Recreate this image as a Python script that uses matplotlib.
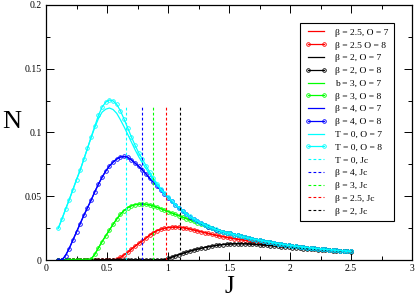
import numpy as np
import matplotlib
matplotlib.use('Agg')
import matplotlib.pyplot as plt
from matplotlib.ticker import MultipleLocator, FormatStrFormatter
from matplotlib import rcParams

rcParams.update({'font.family': 'serif', 'font.serif': ['Liberation Serif', 'DejaVu Serif']})

# J grid (step 0.03)
J = [0.10, 0.13, 0.16, 0.19, 0.22, 0.25, 0.28, 0.31, 0.34, 0.37,
     0.40, 0.43, 0.46, 0.49, 0.52, 0.55, 0.58, 0.61, 0.64, 0.67,
     0.70, 0.73, 0.76, 0.79, 0.82, 0.85, 0.88, 0.91, 0.94, 0.97,
     1.00, 1.03, 1.06, 1.09, 1.12, 1.15, 1.18, 1.21, 1.24, 1.27,
     1.30, 1.33, 1.36, 1.39, 1.42, 1.45, 1.48, 1.51, 1.54, 1.57,
     1.60, 1.63, 1.66, 1.69, 1.72, 1.75, 1.78, 1.81, 1.84, 1.87,
     1.90, 1.93, 1.96, 1.99, 2.02, 2.05, 2.08, 2.11, 2.14, 2.17,
     2.20, 2.23, 2.26, 2.29, 2.32, 2.35, 2.38, 2.41, 2.44, 2.47, 2.50]

# common tail for J >= 1.51
tail = [0.0208, 0.0200, 0.0193,
        0.0186, 0.0179, 0.0172, 0.0166, 0.0160, 0.0155, 0.0149, 0.0144, 0.0139, 0.0134,
        0.0129, 0.0125, 0.0120, 0.0116, 0.0112, 0.0108, 0.0105, 0.0101, 0.0098, 0.0095,
        0.0092, 0.0089, 0.0086, 0.0084, 0.0081, 0.0079, 0.0076, 0.0074, 0.0072, 0.0070, 0.0068]

N_T0_O8 = [0.0248, 0.0320, 0.0397, 0.0472, 0.0550, 0.0630, 0.0705, 0.0790, 0.0876, 0.0965,
           0.1050, 0.1135, 0.1200, 0.1238, 0.1255, 0.1248, 0.1220, 0.1170, 0.1105, 0.1035,
           0.0965, 0.0900, 0.0840, 0.0790, 0.0740, 0.0690, 0.0640, 0.0600, 0.0560, 0.0525,
           0.0495, 0.0465, 0.0435, 0.0410, 0.0385, 0.0362, 0.0342, 0.0322, 0.0305, 0.0290,
           0.0276, 0.0263, 0.0251, 0.0240, 0.0230, 0.0221, 0.0212] + tail

N_T0_O7 = [0.0248, 0.0320, 0.0397, 0.0472, 0.0550, 0.0630, 0.0705, 0.0790, 0.0876, 0.0960,
           0.1040, 0.1110, 0.1160, 0.1183, 0.1192, 0.1180, 0.1150, 0.1100, 0.1045, 0.0985,
           0.0925, 0.0865, 0.0810, 0.0762, 0.0718, 0.0672, 0.0628, 0.0590, 0.0553, 0.0520,
           0.0492, 0.0463, 0.0435, 0.0410, 0.0385, 0.0362, 0.0342, 0.0322, 0.0305, 0.0290,
           0.0276, 0.0263, 0.0251, 0.0240, 0.0230, 0.0221, 0.0212] + tail

N_b4_O8 = [0.0, 0.0, 0.0035, 0.0090, 0.0155, 0.0220, 0.0285, 0.0350, 0.0410, 0.0470,
           0.0535, 0.0595, 0.0650, 0.0698, 0.0737, 0.0768, 0.0792, 0.0808, 0.0812, 0.0805,
           0.0785, 0.0760, 0.0735, 0.0705, 0.0675, 0.0640, 0.0610, 0.0580, 0.0548, 0.0518,
           0.0490, 0.0460, 0.0432, 0.0407, 0.0382, 0.0360, 0.0340, 0.0320, 0.0303, 0.0288,
           0.0274, 0.0261, 0.0249, 0.0238, 0.0228, 0.0219, 0.0210] + tail

N_b3_O8 = [0.0, 0.0, 0.0, 0.0, 0.0, 0.0, 0.0, 0.0, 0.0, 0.0008,
           0.0045, 0.0095, 0.0145, 0.0190, 0.0235, 0.0280, 0.0322, 0.0358, 0.0388, 0.0410,
           0.0425, 0.0434, 0.0438, 0.0439, 0.0437, 0.0432, 0.0424, 0.0414, 0.0403, 0.0391,
           0.0380, 0.0369, 0.0358, 0.0347, 0.0336, 0.0325, 0.0314, 0.0303, 0.0293, 0.0284,
           0.0272, 0.0260, 0.0249, 0.0238, 0.0228, 0.0218, 0.0209] + tail

N_b25_O8 = [0.0, 0.0, 0.0, 0.0, 0.0, 0.0, 0.0, 0.0, 0.0, 0.0,
            0.0, 0.0, 0.0, 0.0, 0.0, 0.0, 0.0005, 0.0020, 0.0040, 0.0060,
            0.0085, 0.0108, 0.0130, 0.0150, 0.0172, 0.0195, 0.0215, 0.0230, 0.0241, 0.0249,
            0.0254, 0.0257, 0.0258, 0.0257, 0.0254, 0.0249, 0.0243, 0.0236, 0.0229, 0.0222,
            0.0215, 0.0208, 0.0201, 0.0195, 0.0189, 0.0183, 0.0178, 0.0173, 0.0168, 0.0163,
            0.0159, 0.0155, 0.0151, 0.0147, 0.0143, 0.0140, 0.0137, 0.0134, 0.0131, 0.0128,
            0.0124, 0.0121, 0.0117, 0.0114, 0.0110, 0.0107, 0.0104, 0.0101, 0.0098, 0.0095,
            0.0092, 0.0089, 0.0086, 0.0084, 0.0081, 0.0079, 0.0076, 0.0074, 0.0072, 0.0070, 0.0068]

N_b2_O8 = [0.0, 0.0, 0.0, 0.0, 0.0, 0.0, 0.0, 0.0, 0.0, 0.0,
           0.0, 0.0, 0.0, 0.0, 0.0, 0.0, 0.0, 0.0, 0.0, 0.0,
           0.0, 0.0, 0.0, 0.0, 0.0, 0.0, 0.0, 0.0, 0.0, 0.0002,
           0.0012, 0.0022, 0.0032, 0.0042, 0.0052, 0.0061, 0.0070, 0.0078, 0.0085, 0.0092,
           0.0098, 0.0104, 0.0109, 0.0114, 0.0118, 0.0121, 0.0124, 0.0126, 0.0127, 0.0128,
           0.0128, 0.0127, 0.0126, 0.0124, 0.0122, 0.0120, 0.0118, 0.0116, 0.0113, 0.0111,
           0.0108, 0.0105, 0.0102, 0.0099, 0.0096, 0.0094, 0.0091, 0.0089, 0.0087, 0.0085,
           0.0083, 0.0081, 0.0079, 0.0077, 0.0075, 0.0073, 0.0072, 0.0070, 0.0069, 0.0067, 0.0066]

# O = 7 curves coincide with O = 8 ones except T = 0
N_b25_O7 = list(N_b25_O8)
N_b2_O7 = list(N_b2_O8)
N_b3_O7 = list(N_b3_O8)
N_b4_O7 = list(N_b4_O8)

# critical couplings Jc
Jc_labels = ['T = 0, Jc', 'β = 4, Jc', 'β = 3, Jc', 'β = 2.5, Jc', 'β = 2, Jc']
Jc_values = [0.658, 0.784, 0.877, 0.984, 1.10]
Jc_colors = ['cyan', 'blue', '#00ff00', 'red', 'black']
Jc_top = 0.12

GREEN = '#00ff00'


def main():
    fig = plt.figure(figsize=(4.15, 2.97), dpi=100)
    ax = fig.add_axes([46 / 415, 37 / 297, 366 / 415, 255 / 297])

    mk = dict(marker='o', markersize=2.6, markerfacecolor='none', markeredgewidth=0.6, linewidth=0.9)
    ax.plot(J, N_b25_O7, color='red', linewidth=0.9, label='β = 2.5, O = 7')
    ax.plot(J, N_b25_O8, color='red', label='β = 2.5 O = 8', **mk)
    ax.plot(J, N_b2_O7, color='black', linewidth=0.9, label='β = 2, O = 7')
    ax.plot(J, N_b2_O8, color='black', label='β = 2, O = 8', **mk)
    ax.plot(J, N_b3_O7, color=GREEN, linewidth=0.9, label='b = 3, O = 7')
    ax.plot(J, N_b3_O8, color=GREEN, label='β = 3, O = 8', **mk)
    ax.plot(J, N_b4_O7, color='blue', linewidth=0.9, label='β = 4, O = 7')
    ax.plot(J, N_b4_O8, color='blue', label='β = 4, O = 8', **mk)
    ax.plot(J, N_T0_O7, color='cyan', linewidth=0.9, label='T = 0, O = 7')
    ax.plot(J, N_T0_O8, color='cyan', label='T = 0, O = 8', **mk)

    for lab, xv, c in zip(Jc_labels, Jc_values, Jc_colors):
        ax.plot([xv, xv], [0, Jc_top], color=c, linewidth=0.8, dashes=(2.5, 2), label=lab)

    ax.set_xlim(0, 3)
    ax.set_ylim(0, 0.2)
    ax.xaxis.set_major_locator(MultipleLocator(0.5))
    ax.xaxis.set_minor_locator(MultipleLocator(0.25))
    ax.xaxis.set_major_formatter(FormatStrFormatter('%g'))
    ax.yaxis.set_major_locator(MultipleLocator(0.05))
    ax.yaxis.set_minor_locator(MultipleLocator(0.025))
    ax.yaxis.set_major_formatter(FormatStrFormatter('%g'))
    ax.tick_params(which='both', direction='in', top=True, right=True, labelsize=7, width=0.7, pad=3)
    ax.tick_params(which='major', length=5.5)
    ax.tick_params(which='minor', length=3)
    for s in ax.spines.values():
        s.set_linewidth(0.9)

    ax.set_xlabel('J', fontsize=18, labelpad=0, va='baseline')
    ax.set_ylabel('N', fontsize=19, rotation=0, labelpad=0)
    ax.yaxis.set_label_coords(-0.093, 0.5)
    ax.xaxis.set_label_coords(0.5, -0.128)

    leg = ax.legend(loc='upper left', bbox_to_anchor=((300 - 46) / 366, (260 - 23) / 255),
                    borderaxespad=0, fontsize=6.8, numpoints=2, handlelength=2.3,
                    handletextpad=0.9, labelspacing=0.44, borderpad=0.55,
                    fancybox=False, framealpha=1, edgecolor='black')
    leg.get_frame().set_linewidth(0.8)

    fig.savefig('out.png', dpi=100)


if __name__ == '__main__':
    main()
